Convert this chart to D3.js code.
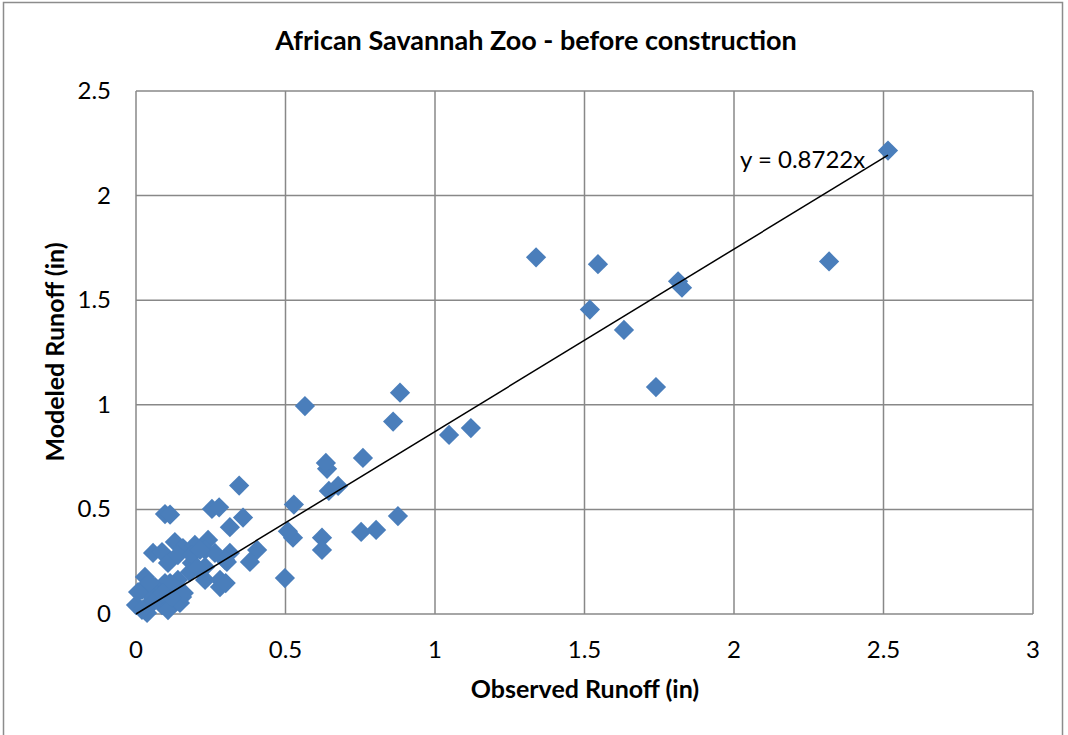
<!DOCTYPE html>
<html>
<head>
<meta charset="utf-8">
<script src="https://cdn.jsdelivr.net/npm/d3@7"></script>
<style>
  body { margin: 0; background: #fff; }
  text { font-family: Lato, "Open Sans", sans-serif; }
</style>
</head>
<body>
<div id="chart"></div>
<script>
var observed = [
  2.515, 2.318, 1.338, 1.545, 1.518, 1.813, 1.826, 1.632, 1.739, 1.12,
  1.047, 0.883, 0.86, 0.876, 0.759, 0.803, 0.753, 0.676, 0.645, 0.639,
  0.635, 0.565, 0.622, 0.622, 0.528, 0.525, 0.508, 0.498,
  0.345, 0.358, 0.254, 0.278, 0.314, 0.405, 0.381, 0.304, 0.241, 0.097,
  0.114, 0.314, 0.231, 0.281, 0.281, 0.3, 0.057, 0.087, 0.13, 0.157,
  0.197, 0.231, 0.264, 0.107, 0.187, 0.231, 0.298, 0.03, 0.02, 0.064,
  0.097, 0.14, 0.154, 0.13, 0.087, 0.0, 0.03, 0.054, 0.007, 0.107,
  0.037, 0.137, 0.114, 0.147, 0.14, 0.187, 0.214,
  0.06, 0.09, 0.16, 0.045, 0.18, 0.205, 0.12, 0.02
];
var modeled = [
  2.215, 1.685, 1.705, 1.672, 1.455, 1.59, 1.56, 1.358, 1.085, 0.889,
  0.856, 1.058, 0.92, 0.468, 0.746, 0.402, 0.392, 0.612, 0.588, 0.694,
  0.722, 0.994, 0.365, 0.306, 0.523, 0.365, 0.395, 0.172,
  0.614, 0.461, 0.502, 0.51, 0.415, 0.306, 0.249, 0.249, 0.354, 0.478,
  0.475, 0.292, 0.163, 0.129, 0.163, 0.148, 0.292, 0.296, 0.344, 0.315,
  0.33, 0.306, 0.292, 0.244, 0.244, 0.225, 0.258, 0.177, 0.115, 0.129,
  0.148, 0.163, 0.081, 0.053, 0.043, 0.043, 0.029, 0.081, 0.105, 0.019,
  0.005, 0.115, 0.148, 0.053, 0.282, 0.282, 0.306,
  0.06, 0.1, 0.1, 0.15, 0.2, 0.22, 0.08, 0.02
];
var xTicks = [0, 0.5, 1, 1.5, 2, 2.5, 3];
var yTicks = [0, 0.5, 1, 1.5, 2, 2.5];
var slope = 0.8722;

var W = 1068, H = 735;
var pLeft = 136, pRight = 1033, pTop = 91, pBottom = 614;

var svg = d3.select('#chart').append('svg')
  .attr('width', W)
  .attr('height', H);

// outer chart border
svg.append('rect')
  .attr('x', 3.5).attr('y', 2.5)
  .attr('width', 1059).attr('height', 740)
  .attr('fill', 'none')
  .attr('stroke', '#8c8c8c')
  .attr('stroke-width', 1.5);

var x = d3.scaleLinear().domain([0, 3]).range([pLeft, pRight]);
var y = d3.scaleLinear().domain([0, 2.5]).range([pBottom, pTop]);

// grid
svg.append('g').selectAll('line')
  .data(xTicks).enter().append('line')
  .attr('x1', d => x(d)).attr('x2', d => x(d))
  .attr('y1', pTop).attr('y2', pBottom)
  .attr('stroke', '#888').attr('stroke-width', 1.5);
svg.append('g').selectAll('line')
  .data(yTicks).enter().append('line')
  .attr('x1', pLeft).attr('x2', pRight)
  .attr('y1', d => y(d)).attr('y2', d => y(d))
  .attr('stroke', '#888').attr('stroke-width', 1.5);

// tick labels
svg.append('g').selectAll('text')
  .data(xTicks).enter().append('text')
  .attr('x', d => x(d)).attr('y', 658)
  .attr('text-anchor', 'middle')
  .attr('font-size', 24)
  .text(d => d);
svg.append('g').selectAll('text')
  .data(yTicks).enter().append('text')
  .attr('x', 111).attr('y', d => y(d) + 8)
  .attr('text-anchor', 'end')
  .attr('font-size', 24)
  .text(d => d);

// points
var pts = observed.map((v, i) => [v, modeled[i]]);
var sym = d3.symbol().type(d3.symbolSquare).size(205);
svg.append('g').selectAll('path')
  .data(pts).enter().append('path')
  .attr('d', sym)
  .attr('transform', d => 'translate(' + x(d[0]) + ',' + y(d[1]) + ') rotate(45)')
  .attr('fill', '#4a7ebb');

// trend line
var xmax = d3.max(observed);
svg.append('line')
  .attr('x1', x(0)).attr('y1', y(0))
  .attr('x2', x(xmax)).attr('y2', y(slope * xmax))
  .attr('stroke', '#000').attr('stroke-width', 1.5);

svg.append('text')
  .attr('x', 740).attr('y', 168)
  .attr('font-size', 24)
  .text('y = ' + slope + 'x');

// titles
svg.append('text')
  .attr('x', 536).attr('y', 50)
  .attr('text-anchor', 'middle')
  .attr('font-size', 27).attr('font-weight', 'bold')
  .text('African Savannah Zoo - before construction');
svg.append('text')
  .attr('x', 585).attr('y', 698)
  .attr('text-anchor', 'middle')
  .attr('font-size', 25).attr('font-weight', 'bold')
  .text('Observed Runoff (in)');
svg.append('text')
  .attr('transform', 'translate(64,352) rotate(-90)')
  .attr('text-anchor', 'middle')
  .attr('font-size', 25).attr('font-weight', 'bold')
  .text('Modeled Runoff (in)');
</script>
</body>
</html>
